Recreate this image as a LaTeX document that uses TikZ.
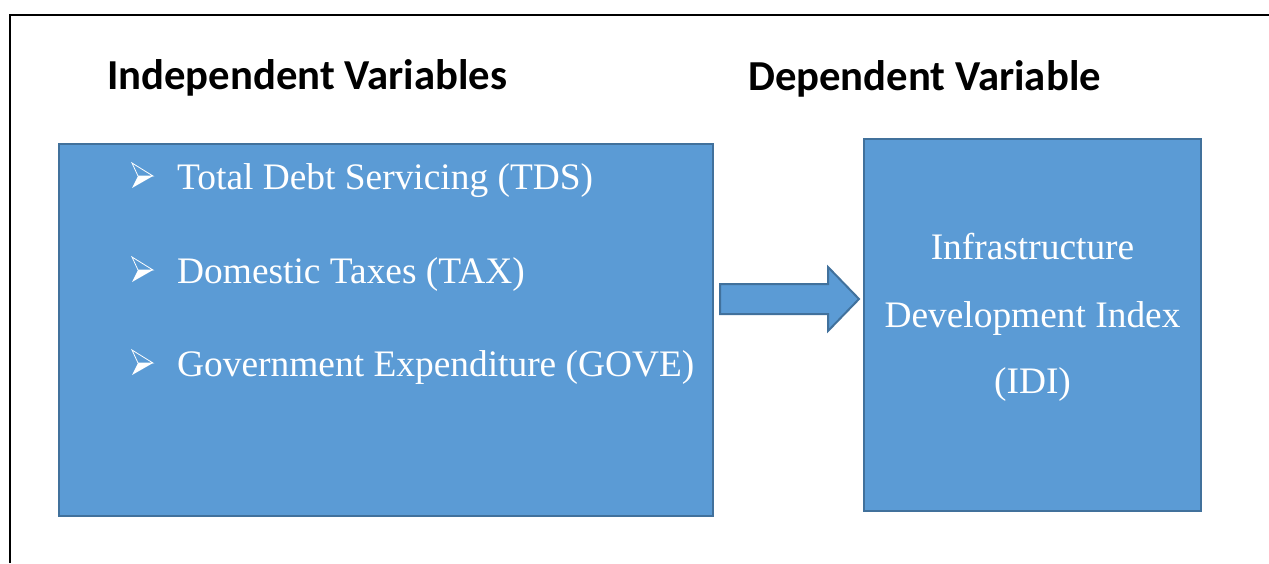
\documentclass[tikz,border=0pt]{standalone}
\usepackage{fontspec}
\setmainfont{Liberation Serif}
\newfontfamily\headfont{Carlito}
\definecolor{boxfill}{HTML}{5B9BD5}
\definecolor{boxline}{HTML}{41719C}
\tikzset{
  box/.style={draw=boxline, line width=2pt, fill=boxfill, inner sep=0pt},
  head/.style={font=\headfont\bfseries\fontsize{42.7}{42.7}\selectfont, anchor=base west, inner sep=0pt},
  item/.style={font=\fontsize{37.4}{37.4}\selectfont, text=white, anchor=base west, inner sep=0pt},
  ctext/.style={font=\fontsize{37.4}{37.4}\selectfont, text=white, anchor=base, inner sep=0pt},
  bul/.pic={
    \fill[white] (138,-13) -- (153,-13) -- (132,-1) -- cycle;
    \draw[white, line width=0.8pt, line join=miter] (138,-13) -- (132,-26) -- (153,-13) -- cycle;
  }
}
\begin{document}
\begin{tikzpicture}[x=1pt,y=-1pt]
\useasboundingbox (0,0) rectangle (1269,563);
% frame
\draw[line width=2pt] (10,563) -- (10,15) -- (1269,15);
% headings
\node[head] (h1) at (107,89) {Independent Variables};
\node[head] (h2) at (748,90) {Dependent Variable};
% boxes
\node[box, minimum width=654pt, minimum height=372pt] (L) at (386,330) {};
\node[box, minimum width=337pt, minimum height=372pt] (R) at (1032.5,325) {};
% bullets
\pic at (0,189) {bul};
\pic at (0,283) {bul};
\pic at (0,376) {bul};
\node[item] (t1) at (177,189) {Total Debt Servicing (TDS)};
\node[item] (t2) at (177,283) {Domestic Taxes (TAX)};
\node[item] (t3) at (177,376) {Government Expenditure (GOVE)};
% right text
\node[ctext] (r1) at (1032.5,259) {Infrastructure};
\node[ctext] (r2) at (1032.5,327) {Development Index};
\node[ctext] (r3) at (1032.5,393) {(IDI)};
% arrow
\draw[boxline, line width=2pt, fill=boxfill, line join=miter]
  (720,284) -- (828,284) -- (828,267) -- (859,299) -- (828,331) -- (828,314) -- (720,314) -- cycle;
\end{tikzpicture}
\end{document}
